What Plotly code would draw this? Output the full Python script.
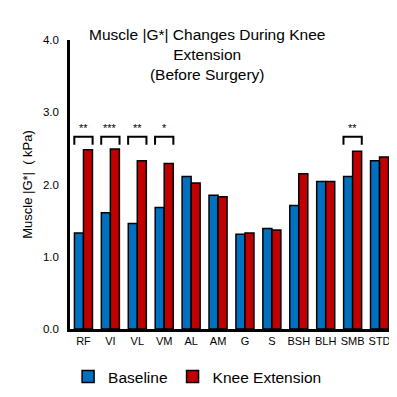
import plotly.graph_objects as go

categories = ["RF", "VI", "VL", "VM", "AL", "AM", "G", "S", "BSH", "BLH", "SMB", "STD"]
baseline = [1.33, 1.61, 1.46, 1.68, 2.11, 1.85, 1.31, 1.39, 1.71, 2.04, 2.11, 2.33]
knee_ext = [2.48, 2.49, 2.33, 2.29, 2.02, 1.83, 1.33, 1.37, 2.15, 2.04, 2.46, 2.38]
significance = ["**", "***", "**", "*", "", "", "", "", "", "", "**", ""]
y_ticks = [0.0, 1.0, 2.0, 3.0, 4.0]

fig = go.Figure()
fig.add_trace(go.Bar(x=categories, y=baseline, name="Baseline",
                     marker=dict(color="#0070C0", line=dict(color="black", width=1.5))))
fig.add_trace(go.Bar(x=categories, y=knee_ext, name="Knee Extension",
                     marker=dict(color="#C00000", line=dict(color="black", width=1.5))))

half = 0.34
for i, s in enumerate(significance):
    if not s:
        continue
    fig.add_shape(type="path",
                  path=f"M {i-half},2.55 L {i-half},2.66 L {i+half},2.66 L {i+half},2.55",
                  xref="x", yref="y", line=dict(color="black", width=2))
    fig.add_annotation(x=i, y=2.67, text=s, showarrow=False, yanchor="bottom",
                       font=dict(size=11, color="#000000"))

fig.add_annotation(text="Muscle |G*| Changes During Knee<br>Extension<br>(Before Surgery)",
                   xref="paper", yref="paper", x=0.425, y=1.055, yanchor="top",
                   showarrow=False, font=dict(size=15.5, color="black"))

fig.update_layout(
    width=389, height=389,
    margin=dict(l=62, r=4, t=32, b=68, autoexpand=False),
    paper_bgcolor="white", plot_bgcolor="white",
    font=dict(family="Liberation Sans, Arial, sans-serif", color="black"),
    barmode="group", bargap=0.33, bargroupgap=0,
    showlegend=True,
    legend=dict(orientation="h", xref="paper", yref="paper",
                x=0.395, xanchor="center", y=-0.166, yanchor="middle",
                font=dict(size=15.5), itemwidth=30),
    xaxis=dict(showline=True, linecolor="black", linewidth=2.5, ticks="",
               tickfont=dict(size=11), showgrid=False, zeroline=False),
    yaxis=dict(range=[0, 4], tickvals=y_ticks, ticktext=[f"{v:.1f}" for v in y_ticks],
               showline=True, linecolor="black", linewidth=2.5, ticks="",
               ticklabelstandoff=6,
               tickfont=dict(size=11.5), showgrid=False, zeroline=False,
               title=dict(text="Muscle |G*|  ( kPa)", font=dict(size=13), standoff=8)),
)

fig.write_html("out.html")
